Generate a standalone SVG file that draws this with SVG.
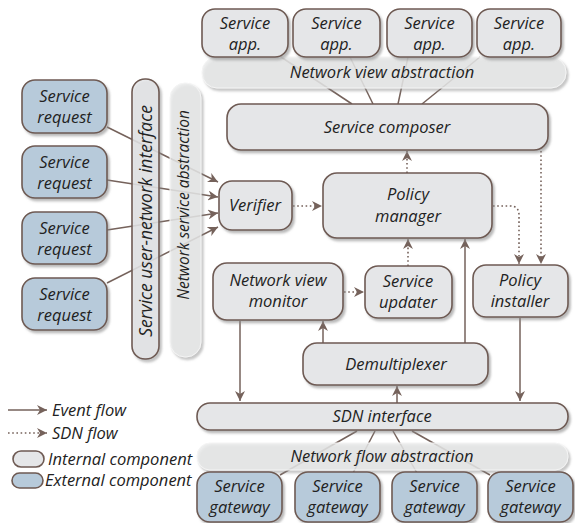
<svg xmlns="http://www.w3.org/2000/svg" width="575" height="523" viewBox="0 0 575 523">
<defs>
<filter id="sh" x="-20%" y="-20%" width="140%" height="150%">
<feDropShadow dx="2" dy="2.5" stdDeviation="1.2" flood-color="#8a8a8a" flood-opacity="0.6"/>
</filter>
<marker id="ah" viewBox="0 0 10 10" markerWidth="10" markerHeight="10" refX="10" refY="5" orient="auto" markerUnits="userSpaceOnUse">
<path d="M0,0 L10,5 L0,10 L3,5 z" fill="#75625b"/>
</marker>
</defs>
<style>
.int{fill:#e5e6e8;stroke:#6e5a53;stroke-width:1.6}
.ext{fill:#b7cada;stroke:#6e5a53;stroke-width:1.6}
.abs{fill:#e9eaeb;fill-opacity:0.78;stroke:#f4f4f4;stroke-width:1}
.t{font-family:"Open Sans","DejaVu Sans",sans-serif;font-style:italic;font-size:16.5px;fill:#222;text-anchor:middle}
.tl{font-family:"Open Sans","DejaVu Sans",sans-serif;font-style:italic;font-size:16.5px;fill:#222}
.e{fill:none;stroke:#75625b;stroke-width:1.5}
.d{fill:none;stroke:#75625b;stroke-width:1.6;stroke-dasharray:1.6 2.6}
</style>

<g id="connectors">
<line class="e" x1="281" y1="57" x2="352" y2="104"/>
<line class="e" x1="350" y1="57" x2="373" y2="104"/>
<line class="e" x1="408" y1="57" x2="398" y2="104"/>
<line class="e" x1="480" y1="57" x2="422" y2="104"/>
<line class="e" x1="107" y1="127" x2="218" y2="182" marker-end="url(#ah)"/>
<line class="e" x1="107" y1="180" x2="218" y2="197" marker-end="url(#ah)"/>
<line class="e" x1="107" y1="230" x2="218" y2="213" marker-end="url(#ah)"/>
<line class="e" x1="107" y1="283" x2="218" y2="227" marker-end="url(#ah)"/>
<line class="d" x1="293" y1="206" x2="322" y2="206" marker-end="url(#ah)"/>
<line class="d" x1="407" y1="173" x2="407" y2="151" marker-end="url(#ah)"/>
<path class="d" d="M493,206 L510,206 Q519,206 519,215 L519,264" marker-end="url(#ah)"/>
<line class="d" x1="541" y1="151" x2="541" y2="264" marker-end="url(#ah)"/>
<line class="d" x1="344" y1="292" x2="364" y2="292" marker-end="url(#ah)"/>
<line class="d" x1="408" y1="266" x2="408" y2="239" marker-end="url(#ah)"/>
<line class="e" x1="465" y1="343" x2="465" y2="239" marker-end="url(#ah)"/>
<line class="e" x1="323" y1="343" x2="323" y2="321" marker-end="url(#ah)"/>
<line class="e" x1="240" y1="321" x2="240" y2="401" marker-end="url(#ah)"/>
<line class="e" x1="520" y1="318" x2="520" y2="401" marker-end="url(#ah)"/>
<line class="e" x1="397" y1="403" x2="397" y2="386" marker-end="url(#ah)"/>
<line class="e" x1="357" y1="431" x2="280" y2="475"/>
<line class="e" x1="375" y1="431" x2="353" y2="473"/>
<line class="e" x1="393" y1="431" x2="417" y2="473"/>
<line class="e" x1="412" y1="431" x2="490" y2="475"/>
</g>

<g id="network-view-abstraction">
<rect class="abs" x="202" y="57" width="364" height="31" rx="15" filter="url(#sh)"/>
<text class="t" x="382" y="78">Network view abstraction</text>
</g>
<g id="network-flow-abstraction">
<rect class="abs" x="197" y="443" width="371" height="27" rx="13" filter="url(#sh)"/>
<text class="t" x="382" y="462">Network flow abstraction</text>
</g>
<g id="network-service-abstraction">
<rect class="abs" x="170" y="83" width="31" height="274" rx="15" filter="url(#sh)"/>
<text class="t" style="font-size:15.5px" transform="translate(189,205) rotate(-90)">Network service abstraction</text>
</g>
<g id="service-user-network-interface">
<rect class="int" x="132" y="79" width="27" height="280" rx="13" fill-opacity="0.8" filter="url(#sh)"/>
<text class="t" style="font-size:17.5px" transform="translate(152,221) rotate(-90)">Service user-network interface</text>
</g>

<g id="app1"><rect class="int" x="202" y="9" width="86" height="48" rx="13" filter="url(#sh)"/><text class="t" x="245" y="29">Service</text><text class="t" x="245" y="50">app.</text></g>
<g id="app2"><rect class="int" x="293" y="9" width="87" height="48" rx="13" filter="url(#sh)"/><text class="t" x="336.5" y="29">Service</text><text class="t" x="336.5" y="50">app.</text></g>
<g id="app3"><rect class="int" x="387" y="9" width="85" height="48" rx="13" filter="url(#sh)"/><text class="t" x="429.5" y="29">Service</text><text class="t" x="429.5" y="50">app.</text></g>
<g id="app4"><rect class="int" x="477" y="9" width="84" height="48" rx="13" filter="url(#sh)"/><text class="t" x="519" y="29">Service</text><text class="t" x="519" y="50">app.</text></g>

<g id="service-composer"><rect class="int" x="227" y="104" width="321" height="46" rx="14" filter="url(#sh)"/><text class="t" x="387" y="133">Service composer</text></g>
<g id="verifier"><rect class="int" x="219" y="181" width="73" height="49" rx="13" filter="url(#sh)"/><text class="t" x="255" y="211">Verifier</text></g>
<g id="policy-manager"><rect class="int" x="323" y="173" width="169" height="65" rx="14" filter="url(#sh)"/><text class="t" x="408" y="200">Policy</text><text class="t" x="408" y="222">manager</text></g>

<g id="req1"><rect class="ext" x="22" y="80" width="85" height="53" rx="13" filter="url(#sh)"/><text class="t" x="64.5" y="102">Service</text><text class="t" x="64.5" y="123">request</text></g>
<g id="req2"><rect class="ext" x="22" y="146" width="85" height="52" rx="13" filter="url(#sh)"/><text class="t" x="64.5" y="168">Service</text><text class="t" x="64.5" y="189">request</text></g>
<g id="req3"><rect class="ext" x="22" y="212" width="85" height="52" rx="13" filter="url(#sh)"/><text class="t" x="64.5" y="234">Service</text><text class="t" x="64.5" y="255">request</text></g>
<g id="req4"><rect class="ext" x="22" y="278" width="85" height="52" rx="13" filter="url(#sh)"/><text class="t" x="64.5" y="300">Service</text><text class="t" x="64.5" y="321">request</text></g>

<g id="network-view-monitor"><rect class="int" x="213" y="263" width="130" height="57" rx="14" filter="url(#sh)"/><text class="t" x="278" y="286">Network view</text><text class="t" x="278" y="307">monitor</text></g>
<g id="service-updater"><rect class="int" x="365" y="266" width="87" height="52" rx="13" filter="url(#sh)"/><text class="t" x="408" y="287">Service</text><text class="t" x="408" y="308">updater</text></g>
<g id="policy-installer"><rect class="int" x="473" y="265" width="95" height="52" rx="13" filter="url(#sh)"/><text class="t" x="520" y="286">Policy</text><text class="t" x="520" y="307">installer</text></g>
<g id="demultiplexer"><rect class="int" x="303" y="343" width="185" height="42" rx="14" filter="url(#sh)"/><text class="t" x="396" y="370">Demultiplexer</text></g>
<g id="sdn-interface"><rect class="int" x="197" y="403" width="371" height="27" rx="13" filter="url(#sh)"/><text class="t" x="382" y="422">SDN interface</text></g>

<g id="gw1"><rect class="ext" x="197" y="472" width="85" height="50" rx="13" filter="url(#sh)"/><text class="t" x="239.5" y="492">Service</text><text class="t" x="239.5" y="513">gateway</text></g>
<g id="gw2"><rect class="ext" x="295" y="472" width="85" height="50" rx="13" filter="url(#sh)"/><text class="t" x="337.5" y="492">Service</text><text class="t" x="337.5" y="513">gateway</text></g>
<g id="gw3"><rect class="ext" x="392" y="472" width="85" height="50" rx="13" filter="url(#sh)"/><text class="t" x="434.5" y="492">Service</text><text class="t" x="434.5" y="513">gateway</text></g>
<g id="gw4"><rect class="ext" x="488" y="472" width="85" height="50" rx="13" filter="url(#sh)"/><text class="t" x="530.5" y="492">Service</text><text class="t" x="530.5" y="513">gateway</text></g>

<g id="legend">
<line class="e" x1="8" y1="410" x2="47" y2="410" marker-end="url(#ah)"/>
<text class="tl" x="52" y="416">Event flow</text>
<line class="d" x1="8" y1="433" x2="47" y2="433" marker-end="url(#ah)"/>
<text class="tl" x="52" y="439">SDN flow</text>
<rect class="int" x="13" y="451" width="31" height="16" rx="8"/>
<text class="tl" x="48" y="465">Internal component</text>
<rect class="ext" x="12" y="473" width="31" height="15" rx="7.5"/>
<text class="tl" x="45" y="486">External component</text>
</g>
</svg>
